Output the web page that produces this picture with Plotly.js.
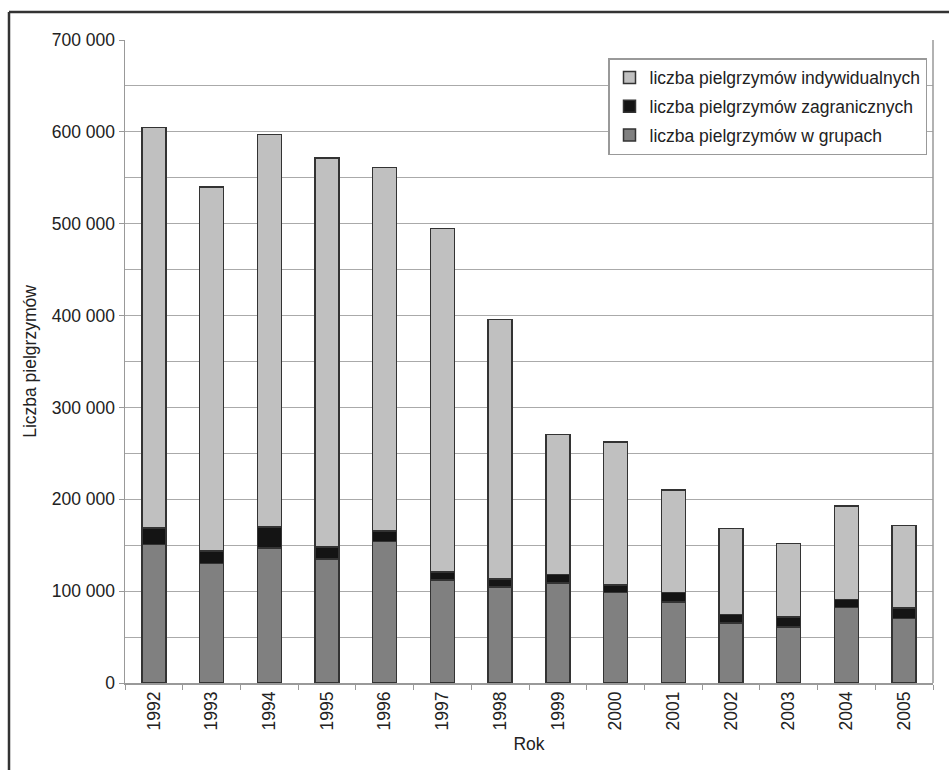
<!DOCTYPE html>
<html>
<head>
<meta charset="utf-8">
<script src="https://cdn.plot.ly/plotly-3.0.1.min.js"></script>
<style>
  html, body { margin: 0; padding: 0; background: #ffffff; }
  #chart { width: 949px; height: 770px; }
</style>
</head>
<body>
<div id="chart"></div>
<script>
const years = ["1992","1993","1994","1995","1996","1997","1998","1999","2000","2001","2002","2003","2004","2005"];
const groups = [151000,130000,147000,135000,154000,112000,104500,109000,98500,88000,65500,61000,82000,70000];
const foreign = [18000,13500,23000,13000,11500,9000,8500,9000,8000,10500,9000,11000,9000,11500];
const individual = [436000,396500,427000,423500,395500,374000,283000,152500,156000,111500,93500,80000,101500,90000];

const seriesNames = [
  "liczba pielgrzymów w grupach",
  "liczba pielgrzymów zagranicznych",
  "liczba pielgrzymów indywidualnych"
];
const yTitle = "Liczba pielgrzymów";
const xTitle = "Rok";

const FONT = "Liberation Sans, Arial, Helvetica, sans-serif";
const FS = 17.5;
const lineStyle = { color: "#333333", width: 1.5 };

const traces = [
  { type: "bar", x: years, y: groups, name: seriesNames[0], legendgroup: "g1", legendrank: 3,
    marker: { color: "#808080", line: lineStyle } },
  { type: "bar", x: years, y: foreign, name: seriesNames[1], legendgroup: "g2", legendrank: 2,
    marker: { color: "#141414", line: lineStyle } },
  { type: "bar", x: years, y: individual, name: seriesNames[2], legendgroup: "g3", legendrank: 1,
    marker: { color: "#c0c0c0", line: lineStyle } },
  // empty helper trace bound to yaxis2 so its 50 000-step gridlines are drawn
  { type: "scatter", x: [], y: [], yaxis: "y2", showlegend: false, hoverinfo: "skip" }
];

const L = 125, R = 16, T = 40, B = 87, W = 949, H = 770;
const pw = W - L - R, ph = H - T - B;
function px2x(p) { return (p - L) / pw; }
function py2y(p) { return (H - B - p) / ph; }

const layout = {
  width: W, height: H,
  margin: { l: L, r: R, t: T, b: B, pad: 0 },
  paper_bgcolor: "#ffffff",
  plot_bgcolor: "#ffffff",
  barmode: "stack",
  bargap: 0.585,
  separators: ", ",
  font: { family: FONT, size: FS, color: "#222222" },
  showlegend: true,
  legend: {
    x: px2x(608), y: py2y(58), xanchor: "left", yanchor: "top",
    bgcolor: "#ffffff", bordercolor: "#999999", borderwidth: 1.5,
    traceorder: "grouped", tracegroupgap: 3,
    font: { family: FONT, size: FS, color: "#222222" }
  },
  xaxis: {
    type: "category",
    tickangle: -90,
    ticks: "outside", ticklen: 5, tickcolor: "#999999", tickwidth: 1,
    tickson: "boundaries",
    showline: true, linecolor: "#999999", linewidth: 1.5,
    showgrid: false,
    title: { text: xTitle, font: { family: FONT, size: FS, color: "#222222" }, standoff: 8 },
    tickfont: { family: FONT, size: FS, color: "#222222" }
  },
  yaxis: {
    range: [0, 700000],
    dtick: 100000,
    tickformat: ",d",
    ticks: "outside", ticklen: 5, tickcolor: "#999999", tickwidth: 1,
    showline: true, linecolor: "#999999", linewidth: 1.5,
    showgrid: true, gridcolor: "#aaaaaa", gridwidth: 1,
    zeroline: false,
    title: { text: yTitle, font: { family: FONT, size: FS, color: "#222222" }, standoff: 10 },
    tickfont: { family: FONT, size: FS, color: "#222222" }
  },
  yaxis2: {
    overlaying: "y",
    side: "left",
    range: [0, 700000],
    dtick: 50000,
    showticklabels: false,
    ticks: "",
    showline: false,
    showgrid: true, gridcolor: "#aaaaaa", gridwidth: 1,
    zeroline: false
  },
  shapes: [
    { type: "line", xref: "paper", yref: "paper", x0: 1, x1: 1, y0: 0, y1: 1,
      line: { color: "#999999", width: 1.5 } },
    { type: "line", xref: "paper", yref: "paper", x0: px2x(9), x1: px2x(960), y0: py2y(12), y1: py2y(12),
      line: { color: "#333333", width: 2.5 } },
    { type: "line", xref: "paper", yref: "paper", x0: px2x(9), x1: px2x(9), y0: py2y(12), y1: py2y(790),
      line: { color: "#333333", width: 2.5 } }
  ]
};

Plotly.newPlot("chart", traces, layout, { displayModeBar: false, staticPlot: true });
</script>
</body>
</html>
